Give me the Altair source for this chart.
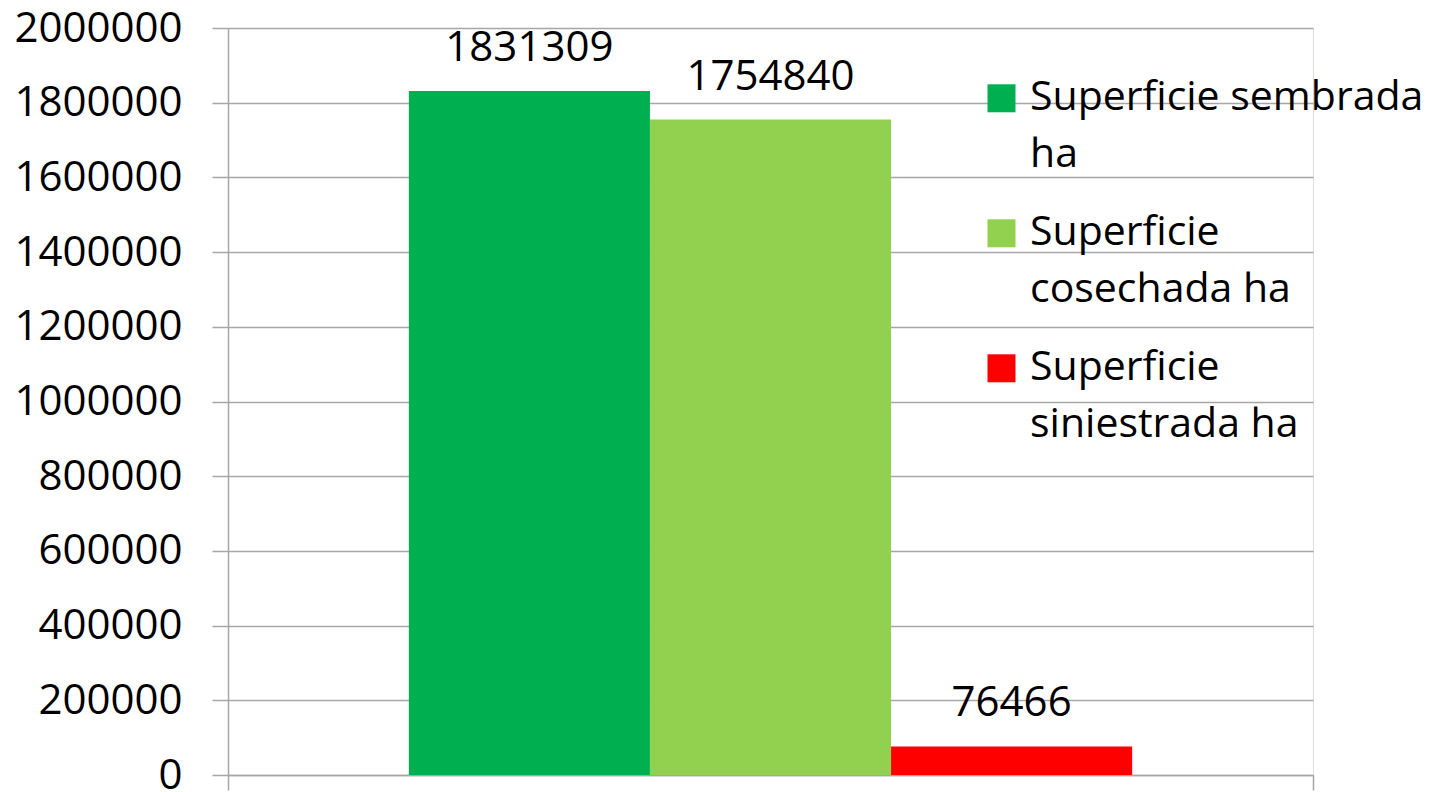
import altair as alt
import pandas as pd

# Data
series = ["Superficie sembrada ha", "Superficie cosechada ha", "Superficie siniestrada ha"]
values = [1831309, 1754840, 76466]
colors = ["#00B050", "#92D050", "#FF0000"]
y_ticks = [0, 200000, 400000, 600000, 800000, 1000000, 1200000, 1400000, 1600000, 1800000, 2000000]

df = pd.DataFrame({"grupo": [""] * len(series), "serie": series, "valor": values})

FONT = "Open Sans"
GRID = "#a6a6a6"

label_expr = (
    "datum.label == 'Superficie sembrada ha' ? ['Superficie sembrada', 'ha'] : "
    "datum.label == 'Superficie cosechada ha' ? ['Superficie', 'cosechada ha'] : "
    "['Superficie', 'siniestrada ha']"
)

x_enc = alt.X(
    "grupo:N",
    scale=alt.Scale(paddingInner=0, paddingOuter=0),
    axis=alt.Axis(
        labels=False, title=None, tickBand="extent", tickSize=15,
        tickColor=GRID, domainColor=GRID, tickWidth=1.5, domainWidth=1.5, grid=False,
    ),
)
xoff_enc = alt.XOffset("serie:N", sort=series, scale=alt.Scale(paddingInner=0, paddingOuter=0.75))
y_enc = alt.Y(
    "valor:Q",
    scale=alt.Scale(domain=[0, 2000000], nice=False),
    axis=alt.Axis(
        values=y_ticks, format="d", title=None, tickSize=16, labelPadding=30,
        labelFont=FONT, labelFontSize=42, labelColor="black",
        gridColor=GRID, gridWidth=1.5, tickColor=GRID, tickWidth=1.5,
        domainColor=GRID, domainWidth=1.5,
    ),
)

# square swatch raised so it sits beside the first line of each label
swatch = "M-1,-1.8H1V0.2H-1Z"

bars = alt.Chart(df).mark_bar().encode(
    x=x_enc,
    xOffset=xoff_enc,
    y=y_enc,
    color=alt.Color(
        "serie:N",
        scale=alt.Scale(domain=series, range=colors),
        legend=alt.Legend(
            orient="none", legendX=753, legendY=61, title=None,
            symbolType=swatch, symbolSize=784, symbolStrokeWidth=0,
            labelFont=FONT, labelFontSize=41, labelColor="black",
            labelExpr=label_expr, labelLimit=0, labelOffset=8,
            labelBaseline="alphabetic", rowPadding=36,
        ),
    ),
)

text = alt.Chart(df).mark_text(
    baseline="alphabetic", dy=-30, fontSize=42, font=FONT, color="black"
).encode(
    x=alt.X("grupo:N"),
    xOffset=alt.XOffset("serie:N", sort=series),
    y=alt.Y("valor:Q"),
    text=alt.Text("valor:Q", format="d"),
)

chart = (
    alt.layer(bars, text)
    .properties(
        width=1085, height=747,
        padding={"left": 220, "top": 20, "right": 114, "bottom": 16},
        autosize=alt.AutoSizeParams(type="none"),
        background="white",
    )
    .configure_view(stroke=None)
    .configure(style={"guide-label": {"lineHeight": 57}})
)

chart.save("out.html", embed_options={"renderer": "svg", "actions": False})
